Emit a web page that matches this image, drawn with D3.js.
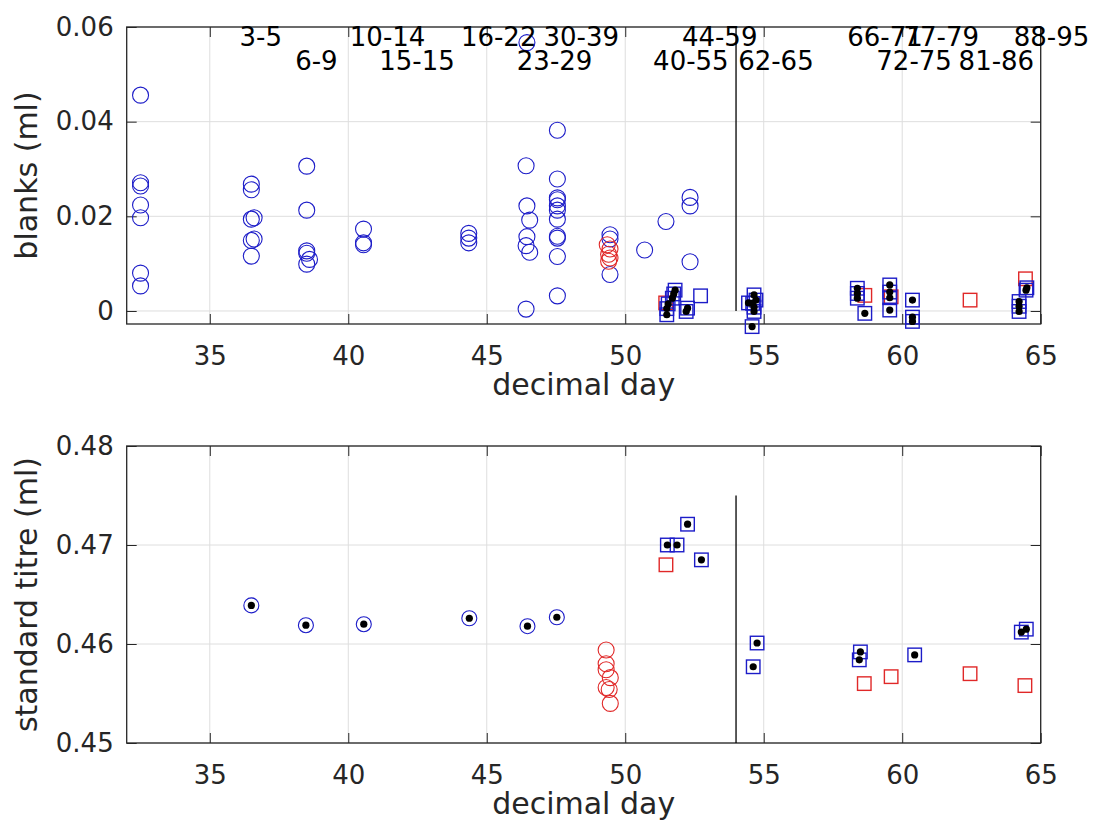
<!DOCTYPE html>
<html>
<head>
<meta charset="utf-8">
<script src="https://cdn.jsdelivr.net/npm/d3@7"></script>
<style>
  body { margin: 0; background: #fff; }
  svg { display: block; font-family: "DejaVu Sans", sans-serif; }
</style>
</head>
<body>
<div id="chart"></div>
<script>
// ---- data: [decimal day, value] ----
// top panel (blanks, ml)
const blankBlueCircles = [
  [32.5, 0.0456], [32.5, 0.0271], [32.5, 0.0264], [32.5, 0.0224], [32.5, 0.0197], [32.5, 0.0080], [32.5, 0.0053],
  [36.5, 0.0268], [36.5, 0.0256], [36.6, 0.0197], [36.5, 0.0194], [36.6, 0.0152], [36.5, 0.0149], [36.5, 0.0116],
  [38.5, 0.0306], [38.5, 0.0213], [38.5, 0.0127], [38.5, 0.0122], [38.6, 0.0109], [38.5, 0.0099],
  [40.55, 0.0173], [40.55, 0.0144], [40.55, 0.0140],
  [44.35, 0.0164], [44.35, 0.0154], [44.35, 0.0144],
  [46.45, 0.0567], [46.42, 0.0307], [46.45, 0.0222], [46.55, 0.0192], [46.45, 0.0157], [46.42, 0.0138], [46.55, 0.0124], [46.42, 0.0004],
  [47.55, 0.0382], [47.55, 0.0279], [47.55, 0.0239], [47.55, 0.0235], [47.55, 0.0222], [47.55, 0.0213], [47.55, 0.0194],
  [47.55, 0.0158], [47.55, 0.0154], [47.55, 0.0115], [47.55, 0.0032],
  [49.45, 0.0161], [49.45, 0.0152], [49.45, 0.0077],
  [50.7, 0.0129], [51.47, 0.0189],
  [52.34, 0.0240], [52.34, 0.0222], [52.34, 0.0104]
];
const blankRedCircles = [
  [49.35, 0.0140], [49.45, 0.0131], [49.4, 0.0120], [49.45, 0.0112], [49.4, 0.0105]
];
const blankBlueSquares = [
  [51.5, -0.0008], [51.5, 0.0005], [51.55, 0.0015], [51.7, 0.0027], [51.8, 0.0044], [51.75, 0.0036],
  [52.2, -0.0001], [52.25, 0.0006],
  [54.65, 0.0034], [54.72, 0.0023], [54.6, 0.0016], [54.45, 0.0017], [54.65, 0.0008], [54.65, -0.0001], [54.58, -0.0033],
  [58.38, 0.0048], [58.38, 0.0037], [58.38, 0.0027], [58.65, -0.0005],
  [59.55, 0.0055], [59.55, 0.0040], [59.55, 0.0028], [59.55, 0.0002],
  [60.37, 0.0023], [60.37, -0.0013], [60.37, -0.0022],
  [64.22, 0.0020], [64.22, 0.0010], [64.22, -0.0001], [64.47, 0.0044], [64.5, 0.0049]
];
const blankBlueOpenSquares = [[52.72, 0.0032]];
const blankRedSquares = [
  [51.46, 0.0017], [58.65, 0.0033], [59.6, 0.0030], [62.45, 0.0023], [64.45, 0.0068]
];
// batch labels along the top of the upper panel
const batchLabels = ["3-5", "10-14", "16-22", "30-39", "44-59", "66-71", "77-79", "88-95",
                     "6-9", "15-15", "23-29", "40-55", "62-65", "72-75", "81-86"];
const batchLabelX = [36.84, 41.42, 45.43, 48.41, 53.41, 59.38, 61.41, 65.39,
                     38.85, 42.48, 47.45, 52.37, 55.44, 60.43, 63.40];
const batchLabelY = [0.056, 0.056, 0.056, 0.056, 0.056, 0.056, 0.056, 0.056,
                     0.0509, 0.0509, 0.0509, 0.0509, 0.0509, 0.0509, 0.0509];

// bottom panel (standard titre, ml)
const titreBlueCircles = [
  [36.5, 0.4639], [38.47, 0.4619], [40.56, 0.4620], [44.37, 0.4626], [46.47, 0.4618], [47.53, 0.4627]
];
const titreRedCircles = [
  [49.31, 0.4594], [49.31, 0.4580], [49.31, 0.4574], [49.46, 0.4566], [49.31, 0.4556], [49.42, 0.4554], [49.46, 0.4540]
];
const titreBlueSquares = [
  [51.52, 0.4700], [51.87, 0.4700], [52.25, 0.4721], [52.75, 0.4685],
  [54.62, 0.4577], [54.76, 0.4601],
  [58.45, 0.4584], [58.49, 0.4592], [60.45, 0.4589],
  [64.3, 0.4612], [64.48, 0.4615]
];
const titreRedSquares = [
  [51.47, 0.4680], [58.63, 0.4560], [59.6, 0.4567], [62.45, 0.4570], [64.43, 0.4558]
];

const xTicks = [35, 40, 45, 50, 55, 60, 65];
const topYTicks = [0, 0.02, 0.04, 0.06];
const topYLabels = ["0", "0.02", "0.04", "0.06"];
const botYTicks = [0.45, 0.46, 0.47, 0.48];
const botYLabels = ["0.45", "0.46", "0.47", "0.48"];
const splitDay = 54;

// ---- layout ----
const W = 1094, H = 826;
const BLUE = "#1c1cc8", RED = "#e02828", AXIS = "#262626", GRID = "#dedede";

const svg = d3.select("#chart").append("svg")
  .attr("width", W).attr("height", H);
svg.append("rect").attr("width", W).attr("height", H).attr("fill", "#fff");

const x = d3.scaleLinear().domain([32, 65]).range([126.7, 1040.7]);
const yTop = d3.scaleLinear().domain([-0.00275, 0.06]).range([324, 27]);
const yBot = d3.scaleLinear().domain([0.45, 0.48]).range([743, 446]);

function drawFrame(y, yTicks, yLabels, ylabel) {
  const [x0, x1] = x.range();
  const [yb, yt] = y.range();
  const g = svg.append("g");

  // grid
  g.selectAll(".gx").data(xTicks).enter().append("line")
    .attr("x1", d => x(d)).attr("x2", d => x(d))
    .attr("y1", yt).attr("y2", yb)
    .attr("stroke", GRID).attr("stroke-width", 1);
  g.selectAll(".gy").data(yTicks).enter().append("line")
    .attr("x1", x0).attr("x2", x1)
    .attr("y1", d => y(d)).attr("y2", d => y(d))
    .attr("stroke", GRID).attr("stroke-width", 1);

  // axes (ticks pointing inward)
  g.append("g").attr("transform", `translate(0,${yb})`)
    .call(d3.axisBottom(x).tickValues(xTicks).tickSizeInner(-10).tickSizeOuter(0).tickPadding(22.5));
  g.append("g").attr("transform", `translate(0,${yt})`)
    .call(d3.axisTop(x).tickValues(xTicks).tickSizeInner(-10).tickSizeOuter(0).tickFormat(""));
  g.append("g").attr("transform", `translate(${x0},0)`)
    .call(d3.axisLeft(y).tickValues(yTicks).tickSizeInner(-10).tickSizeOuter(0).tickPadding(13)
      .tickFormat((d, i) => yLabels[i]));
  g.append("g").attr("transform", `translate(${x1},0)`)
    .call(d3.axisRight(y).tickValues(yTicks).tickSizeInner(-10).tickSizeOuter(0).tickFormat(""));

  g.selectAll(".domain").remove();
  g.selectAll(".tick line").attr("stroke", AXIS).attr("stroke-width", 1);
  g.selectAll(".tick text").attr("fill", AXIS).style("font-size", "26px")
    .style("font-family", "'DejaVu Sans', sans-serif");

  // box
  g.append("rect").attr("x", x0).attr("y", yt)
    .attr("width", x1 - x0).attr("height", yb - yt)
    .attr("fill", "none").attr("stroke", AXIS).attr("stroke-width", 1.3);

  // labels
  g.append("text").attr("x", (x0 + x1) / 2).attr("y", yb + 71)
    .attr("text-anchor", "middle").attr("fill", AXIS)
    .style("font-size", "30px").text("decimal day");
  g.append("text")
    .attr("transform", `translate(${37},${(yt + yb) / 2}) rotate(-90)`)
    .attr("text-anchor", "middle").attr("fill", AXIS)
    .style("font-size", "30px").text(ylabel);
  return g;
}

function circles(y, data, color, r) {
  svg.append("g").selectAll("circle").data(data).enter().append("circle")
    .attr("cx", d => x(d[0])).attr("cy", d => y(d[1])).attr("r", r)
    .attr("fill", "none").attr("stroke", color).attr("stroke-width", 1.1);
}
function squares(y, data, color, s) {
  svg.append("g").selectAll("rect").data(data).enter().append("rect")
    .attr("x", d => x(d[0]) - s / 2).attr("y", d => y(d[1]) - s / 2)
    .attr("width", s).attr("height", s)
    .attr("fill", "none").attr("stroke", color).attr("stroke-width", 1.4);
}
function dots(y, data) {
  svg.append("g").selectAll("circle").data(data).enter().append("circle")
    .attr("cx", d => x(d[0])).attr("cy", d => y(d[1])).attr("r", 3.6)
    .attr("fill", "#000");
}
function splitLine(y, v0, v1) {
  svg.append("line")
    .attr("x1", x(splitDay)).attr("x2", x(splitDay))
    .attr("y1", y(v0)).attr("y2", y(v1))
    .attr("stroke", "#000").attr("stroke-width", 1.3);
}

// ---- top panel ----
drawFrame(yTop, topYTicks, topYLabels, "blanks (ml)");
splitLine(yTop, 0, 0.06);
circles(yTop, blankBlueCircles, BLUE, 8);
circles(yTop, blankRedCircles, RED, 8);
squares(yTop, blankRedSquares, RED, 13.5);
squares(yTop, blankBlueSquares, BLUE, 13.5);
squares(yTop, blankBlueOpenSquares, BLUE, 13.5);
dots(yTop, blankBlueSquares);

svg.append("g").selectAll("text").data(batchLabels).enter().append("text")
  .attr("x", (d, i) => x(batchLabelX[i]))
  .attr("y", (d, i) => yTop(batchLabelY[i]))
  .attr("text-anchor", "middle").attr("fill", "#000")
  .style("font-size", "26px")
  .text(d => d);

// ---- bottom panel ----
drawFrame(yBot, botYTicks, botYLabels, "standard titre (ml)");
splitLine(yBot, 0.45, 0.475);
circles(yBot, titreBlueCircles, BLUE, 7.5);
dots(yBot, titreBlueCircles);
circles(yBot, titreRedCircles, RED, 8);
squares(yBot, titreRedSquares, RED, 13.5);
squares(yBot, titreBlueSquares, BLUE, 13.5);
dots(yBot, titreBlueSquares);
</script>
</body>
</html>
